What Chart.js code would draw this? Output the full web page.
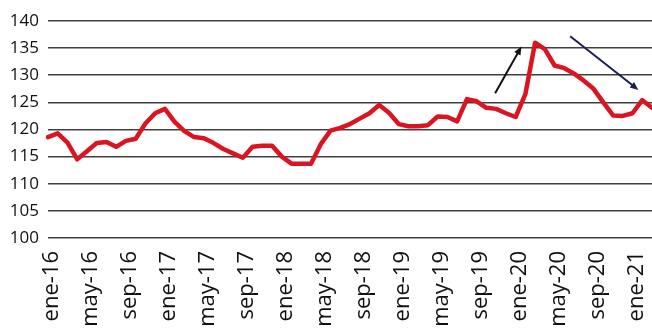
<!DOCTYPE html>
<html>
<head>
<meta charset="utf-8">
<script src="https://cdn.jsdelivr.net/npm/chart.js@4.4.0/dist/chart.umd.min.js"></script>
<style>
  html, body { margin: 0; padding: 0; background: #fff; }
  canvas { display: block; }
</style>
</head>
<body>
<canvas id="myChart" width="652" height="331"></canvas>
<script>
// months ene-16 .. mar-21
const monthNames = ['ene','feb','mar','abr','may','jun','jul','ago','sep','oct','nov','dic'];
const years = ['16','17','18','19','20','21'];
const lastMonthIndex = 62;

const values2016 = [118.6, 119.3, 117.6, 114.5, 116.0, 117.5, 117.7, 116.8, 117.9, 118.3, 121.1, 123.0];
const values2017 = [123.8, 121.4, 119.7, 118.6, 118.4, 117.5, 116.4, 115.6, 114.8, 116.8, 117.0, 117.0];
const values2018 = [115.0, 113.7, 113.7, 113.7, 117.3, 119.8, 120.3, 121.0, 122.0, 123.0, 124.5, 123.1];
const values2019 = [121.0, 120.6, 120.6, 120.8, 122.4, 122.3, 121.5, 125.6, 125.2, 124.0, 123.8, 123.0];
const values2020 = [122.3, 126.5, 136.0, 134.8, 131.8, 131.3, 130.3, 129.0, 127.5, 125.0, 122.6, 122.5];
const values2021 = [123.0, 125.4, 124.0];

const yTicks = [100, 105, 110, 115, 120, 125, 130, 135, 140];

// arrows drawn on the chart, in data units [monthIndex, value]
const arrowUp = { from: [45.9, 126.7], to: [48.6, 135.3], color: '#111111' };
const arrowDown = { from: [53.6, 137.2], to: [60.6, 127.3], color: '#1b1f4f' };

const labels = [];
for (let i = 0; i <= lastMonthIndex; i++) {
    labels.push(monthNames[i % 12] + '-' + years[Math.floor(i / 12)]);
}
const values = [].concat(values2016, values2017, values2018, values2019, values2020, values2021);

const arrowPlugin = {
    id: 'arrows',
    afterDatasetsDraw(chart) {
        const ctx = chart.ctx;
        const xs = chart.scales.x;
        const ys = chart.scales.y;
        for (const a of [arrowUp, arrowDown]) {
            const x1 = xs.getPixelForValue(a.from[0]);
            const y1 = ys.getPixelForValue(a.from[1]);
            const x2 = xs.getPixelForValue(a.to[0]);
            const y2 = ys.getPixelForValue(a.to[1]);
            const ang = Math.atan2(y2 - y1, x2 - x1);
            const head = 9;
            ctx.save();
            ctx.strokeStyle = a.color;
            ctx.fillStyle = a.color;
            ctx.lineWidth = 2;
            ctx.beginPath();
            ctx.moveTo(x1, y1);
            ctx.lineTo(x2 - Math.cos(ang) * head * 0.6, y2 - Math.sin(ang) * head * 0.6);
            ctx.stroke();
            ctx.beginPath();
            ctx.moveTo(x2, y2);
            ctx.lineTo(x2 - head * Math.cos(ang - 0.4), y2 - head * Math.sin(ang - 0.4));
            ctx.lineTo(x2 - head * Math.cos(ang + 0.4), y2 - head * Math.sin(ang + 0.4));
            ctx.closePath();
            ctx.fill();
            ctx.restore();
        }
    }
};

new Chart(document.getElementById('myChart').getContext('2d'), {
    type: 'line',
    data: {
        labels: labels,
        datasets: [{
            data: values,
            borderColor: '#db1421',
            borderWidth: 4.5,
            pointRadius: 0,
            tension: 0,
            borderJoinStyle: 'round',
            borderCapStyle: 'round',
        }]
    },
    options: {
        responsive: false,
        animation: false,
        devicePixelRatio: 1,
        layout: { padding: { top: 21, right: 0, left: 0, bottom: 0 } },
        plugins: {
            legend: { display: false },
            tooltip: { enabled: false },
        },
        scales: {
            x: {
                offset: false,
                grid: { display: false },
                border: { display: false },
                afterFit: function (s) {
                    s.height = 93;
                    s.paddingLeft = 0;
                    s.paddingRight = 0;
                },
                ticks: {
                    autoSkip: false,
                    minRotation: 90,
                    maxRotation: 90,
                    padding: 5,
                    labelOffset: 4,
                    color: '#111',
                    font: { family: 'Open Sans', size: 22 },
                    callback: function (v, i) { return i % 4 === 0 ? labels[i] : ''; },
                },
            },
            y: {
                min: yTicks[0],
                max: yTicks[yTicks.length - 1],
                afterFit: function (s) { s.width = 48; },
                border: { display: false },
                grid: { color: '#404040', lineWidth: 1.6, drawTicks: false },
                ticks: {
                    stepSize: yTicks[1] - yTicks[0],
                    padding: 9,
                    color: '#111',
                    font: { family: 'Open Sans', size: 17 },
                },
            },
        },
    },
    plugins: [arrowPlugin],
});
</script>
</body>
</html>
